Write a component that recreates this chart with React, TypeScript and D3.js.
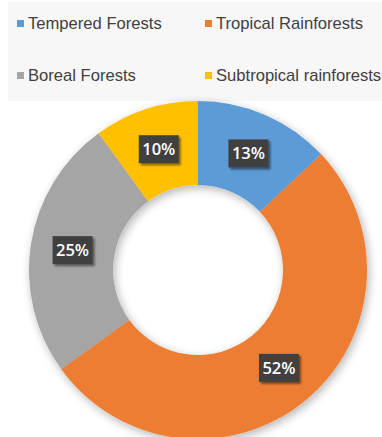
import React from "react";
import * as d3 from "d3";

const categories = ["Tempered Forests", "Tropical Rainforests", "Boreal Forests", "Subtropical rainforests"];
const values = [13, 52, 25, 10];
const colors = ["#5b9bd5", "#ed7d31", "#a5a5a5", "#ffc000"];
const legendOrder = [0, 1, 2, 3];

export default function App() {
  const W = 382, H = 437;
  const cx = 198, cy = 270, R = 169, r = 85;
  const pie = d3.pie<number>().sort(null).value((d) => d)(values);
  const arc = d3.arc<d3.PieArcDatum<number>>().innerRadius(r).outerRadius(R);
  const labelArc = d3.arc<d3.PieArcDatum<number>>().innerRadius(127).outerRadius(127);
  const total = d3.sum(values);
  const legendPos = [
    { x: 17, y: 29 },
    { x: 205, y: 29 },
    { x: 17, y: 81 },
    { x: 205, y: 81 },
  ];
  return (
    <svg width={W} height={H} style={{ position: "absolute", left: 0, top: 0, display: "block" }}
      fontFamily="'Liberation Sans', Arial, sans-serif">
      <defs>
        <filter id="ds" x="-20%" y="-20%" width="140%" height="140%">
          <feGaussianBlur in="SourceAlpha" stdDeviation="5" />
          <feOffset dx="2" dy="3" result="b" />
          <feComponentTransfer><feFuncA type="linear" slope="0.3" /></feComponentTransfer>
          <feMerge><feMergeNode /><feMergeNode in="SourceGraphic" /></feMerge>
        </filter>
        <filter id="ls" x="-30%" y="-30%" width="160%" height="160%">
          <feGaussianBlur in="SourceAlpha" stdDeviation="1.2" />
          <feOffset dx="1.5" dy="2" />
          <feComponentTransfer><feFuncA type="linear" slope="0.5" /></feComponentTransfer>
          <feMerge><feMergeNode /><feMergeNode in="SourceGraphic" /></feMerge>
        </filter>
      </defs>
      <rect x={0} y={0} width={W} height={H} fill="#ffffff" />
      <rect x={8} y={2} width={W - 8} height={99} fill="#f7f7f7" />
      {legendOrder.map((i, k) => (
        <g key={k}>
          <rect x={legendPos[k].x} y={legendPos[k].y - 9} width={7} height={7} fill={colors[i]} />
          <text x={legendPos[k].x + 11} y={legendPos[k].y} fontSize={16.6} fill="#404040">{categories[i]}</text>
        </g>
      ))}
      <g transform={`translate(${cx},${cy})`}>
        <g filter="url(#ds)">
          {pie.map((p, i) => (
            <path key={i} d={arc(p) || ""} fill={colors[i]} />
          ))}
        </g>
        {pie.map((p, i) => {
          const [x, y] = labelArc.centroid(p);
          const txt = Math.round((values[i] / total) * 100) + "%";
          return (
            <g key={"l" + i} transform={`translate(${x},${y})`}>
              <rect x={-20} y={-14} width={40} height={28} fill="#404040" filter="url(#ls)" />
              <text x={0} y={6} textAnchor="middle" fontSize={16.5} fontWeight="600" fill="#ffffff"
                fontFamily="'Open Sans', 'DejaVu Sans', sans-serif">{txt}</text>
            </g>
          );
        })}
      </g>
    </svg>
  );
}
